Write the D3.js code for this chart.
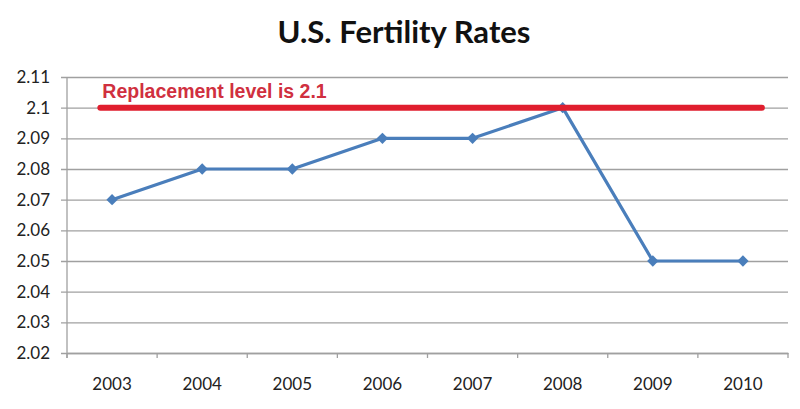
<!DOCTYPE html>
<html><head><meta charset="utf-8">
<script src="https://cdn.jsdelivr.net/npm/d3@7"></script>
<style>body{margin:0;background:#fff}svg{display:block}</style>
</head><body>
<script>
const years = ["2003","2004","2005","2006","2007","2008","2009","2010"];
const rates = [2.07, 2.08, 2.08, 2.09, 2.09, 2.10, 2.05, 2.05];
const yTicks = [2.02,2.03,2.04,2.05,2.06,2.07,2.08,2.09,2.1,2.11];
const replacementLevel = 2.1;
const title = "U.S. Fertility Rates";
const replacementLabel = "Replacement level is 2.1";

const W = 800, H = 409;
const m = {left: 67, right: 12, top: 77, bottom: 56};
const svg = d3.select("body").append("svg").attr("width", W).attr("height", H);

const x = d3.scaleBand().domain(years).range([m.left, W - m.right]);
const y = d3.scaleLinear().domain([2.02, 2.11]).range([H - m.bottom, m.top]);

const font = "Lato, 'Open Sans', sans-serif";

// title
svg.append("text").attr("x", 404).attr("y", 43).attr("text-anchor", "middle")
  .attr("font-family", font).attr("font-weight", 700).attr("font-size", 31)
  .attr("fill", "#111").text(title);

// y gridlines & axis
const yAxis = d3.axisLeft(y).tickValues(yTicks).tickFormat(d => d3.format("")(+d.toFixed(2)))
  .tickSize(0).tickPadding(0);
const gy = svg.append("g").attr("transform", `translate(${m.left - 6},0)`).call(yAxis);
gy.select(".domain").remove();
gy.selectAll(".tick line").attr("stroke", "#a0a0a0").attr("stroke-width", 1.3)
  .attr("x1", 0).attr("x2", W - m.right - m.left + 6);
gy.selectAll(".tick text").attr("font-family", font).attr("font-size", 17).attr("fill", "#222")
  .attr("x", -11);

// left axis line
svg.append("line").attr("x1", m.left).attr("x2", m.left).attr("y1", m.top).attr("y2", H - m.bottom + 5)
  .attr("stroke", "#a0a0a0").attr("stroke-width", 1.3);

// x axis
const xAxis = d3.axisBottom(x).tickSize(0).tickPadding(25);
const gx = svg.append("g").attr("transform", `translate(0,${H - m.bottom})`).call(xAxis);
gx.select(".domain").attr("stroke", "#a0a0a0").attr("stroke-width", 1.3);
gx.selectAll(".tick text").attr("font-family", font).attr("font-size", 17).attr("fill", "#222");
// category boundary ticks
const bounds = years.map(d => x(d)).concat([x(years[years.length-1]) + x.bandwidth()]);
gx.selectAll(".bound").data(bounds).enter().append("line").attr("class", "bound")
  .attr("x1", d => d).attr("x2", d => d).attr("y1", 0).attr("y2", 5)
  .attr("stroke", "#a0a0a0").attr("stroke-width", 1.3);

// data line
const cx = d => x(d) + x.bandwidth() / 2;
const line = d3.line().x((d, i) => cx(years[i])).y(d => y(d));
svg.append("path").datum(rates).attr("d", line).attr("fill", "none")
  .attr("stroke", "#4a7ebb").attr("stroke-width", 3.2).attr("stroke-linejoin", "round");
svg.selectAll(".mk").data(rates).enter().append("path").attr("class", "mk")
  .attr("d", d3.symbol().type(d3.symbolSquare).size(64))
  .attr("transform", (d, i) => `translate(${cx(years[i])},${y(d)}) rotate(45)`)
  .attr("fill", "#4a7ebb");

// replacement line
const xr0 = x(years[0]) + x.bandwidth() * 0.37;
const xr1 = x(years[years.length-1]) + x.bandwidth() * 0.71;
svg.append("line").attr("x1", xr0).attr("x2", xr1).attr("y1", y(replacementLevel)).attr("y2", y(replacementLevel))
  .attr("stroke", "#e01e2e").attr("stroke-width", 6).attr("stroke-linecap", "round");
svg.append("text").attr("x", xr0 + 2).attr("y", y(replacementLevel) - 10)
  .attr("font-family", "'Liberation Sans', Arial, sans-serif").attr("font-weight", 700)
  .attr("font-size", 19.5).attr("fill", "#d0303f").text(replacementLabel);
</script>
</body></html>
